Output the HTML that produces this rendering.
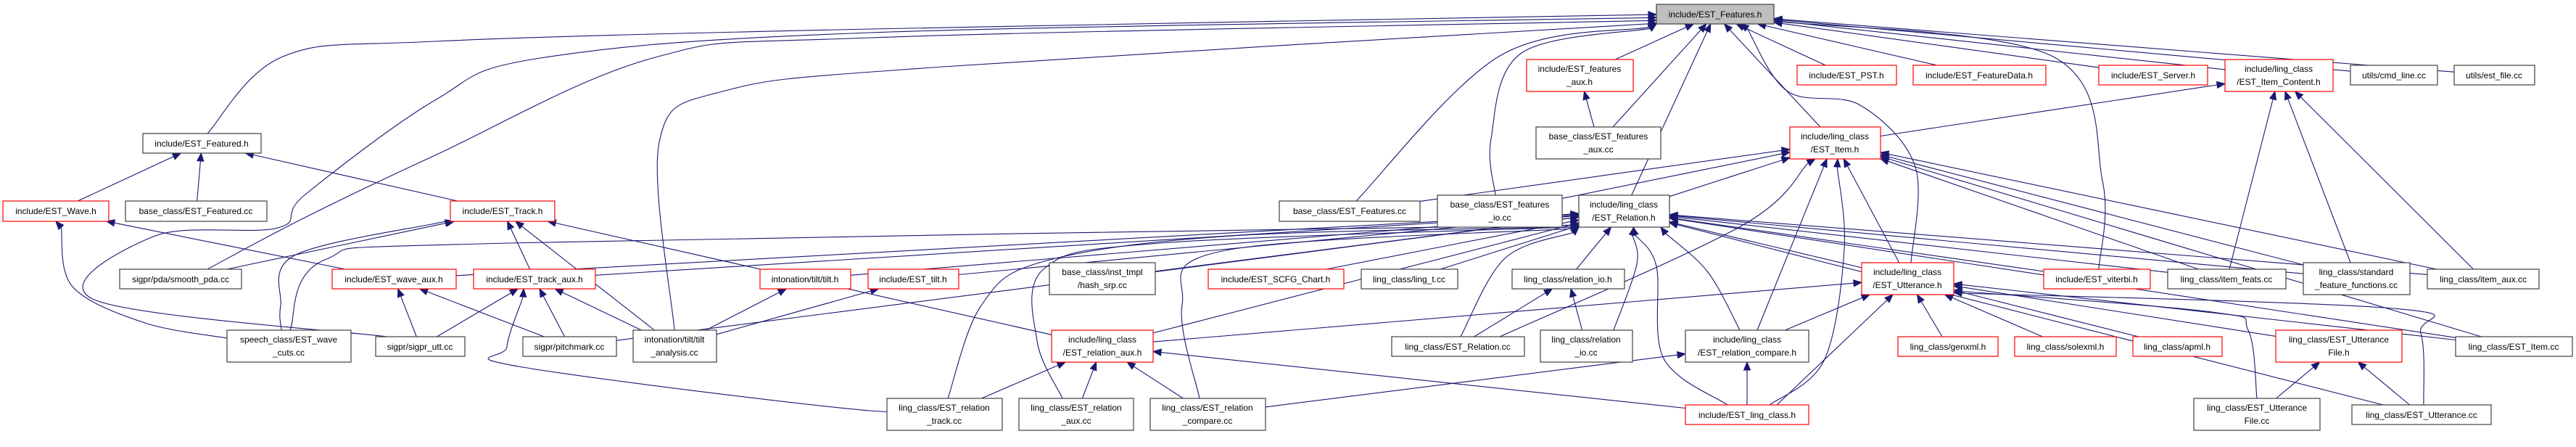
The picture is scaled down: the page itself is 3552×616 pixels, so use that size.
<!DOCTYPE html>
<html><head><meta charset="utf-8">
<style>
html,body{margin:0;padding:0;background:#fff;}
svg{display:block;}
text{font-family:"Liberation Sans",sans-serif;font-size:12px;fill:#000;}
</style></head>
<body>
<svg id="s" width="3552" height="616" viewBox="0 0 3552 616" xmlns="http://www.w3.org/2000/svg">
<rect width="3552" height="616" fill="#fff"/>
<g id="edges" fill="none" stroke="#191970" stroke-width="1.1"></g>
<g id="arrows" fill="#191970" stroke="#191970" stroke-width="1"></g>
<g id="nodes" stroke-width="1.2">
<rect x="2284" y="6" width="162" height="27" fill="#bfbfbf" stroke="#404040"/><text x="2365" y="24" text-anchor="middle">include/EST_Features.h</text>
<rect x="197" y="184" width="163" height="27" fill="#fff" stroke="#404040"/><text x="278" y="202" text-anchor="middle">include/EST_Featured.h</text>
<rect x="4" y="277" width="146" height="28" fill="#fff" stroke="#ff0000"/><text x="77" y="295" text-anchor="middle">include/EST_Wave.h</text>
<rect x="173" y="277" width="195" height="28" fill="#fff" stroke="#404040"/><text x="270" y="295" text-anchor="middle">base_class/EST_Featured.cc</text>
<rect x="165" y="371" width="168" height="27" fill="#fff" stroke="#404040"/><text x="249" y="389" text-anchor="middle">sigpr/pda/smooth_pda.cc</text>
<rect x="458" y="371" width="171" height="27" fill="#fff" stroke="#ff0000"/><text x="543" y="389" text-anchor="middle">include/EST_wave_aux.h</text>
<rect x="313" y="455" width="171" height="44" fill="#fff" stroke="#404040"/><text x="398" y="472" text-anchor="middle">speech_class/EST_wave</text><text x="398" y="490" text-anchor="middle">_cuts.cc</text>
<rect x="518" y="464" width="123" height="27" fill="#fff" stroke="#404040"/><text x="579" y="482" text-anchor="middle">sigpr/sigpr_utt.cc</text>
<rect x="621" y="277" width="144" height="28" fill="#fff" stroke="#ff0000"/><text x="693" y="295" text-anchor="middle">include/EST_Track.h</text>
<rect x="653" y="371" width="168" height="27" fill="#fff" stroke="#ff0000"/><text x="737" y="389" text-anchor="middle">include/EST_track_aux.h</text>
<rect x="721" y="464" width="129" height="27" fill="#fff" stroke="#404040"/><text x="785" y="482" text-anchor="middle">sigpr/pitchmark.cc</text>
<rect x="873" y="455" width="115" height="44" fill="#fff" stroke="#404040"/><text x="930" y="472" text-anchor="middle">intonation/tilt/tilt</text><text x="930" y="490" text-anchor="middle">_analysis.cc</text>
<rect x="1048" y="371" width="125" height="27" fill="#fff" stroke="#ff0000"/><text x="1110" y="389" text-anchor="middle">intonation/tilt/tilt.h</text>
<rect x="1197" y="371" width="125" height="27" fill="#fff" stroke="#ff0000"/><text x="1259" y="389" text-anchor="middle">include/EST_tilt.h</text>
<rect x="1447" y="362" width="146" height="44" fill="#fff" stroke="#404040"/><text x="1520" y="379" text-anchor="middle">base_class/inst_tmpl</text><text x="1520" y="397" text-anchor="middle">/hash_srp.cc</text>
<rect x="1666" y="371" width="187" height="27" fill="#fff" stroke="#ff0000"/><text x="1759" y="389" text-anchor="middle">include/EST_SCFG_Chart.h</text>
<rect x="1450" y="455" width="140" height="44" fill="#fff" stroke="#ff0000"/><text x="1520" y="472" text-anchor="middle">include/ling_class</text><text x="1520" y="490" text-anchor="middle">/EST_relation_aux.h</text>
<rect x="1223" y="549" width="159" height="44" fill="#fff" stroke="#404040"/><text x="1302" y="566" text-anchor="middle">ling_class/EST_relation</text><text x="1302" y="584" text-anchor="middle">_track.cc</text>
<rect x="1405" y="549" width="158" height="44" fill="#fff" stroke="#404040"/><text x="1484" y="566" text-anchor="middle">ling_class/EST_relation</text><text x="1484" y="584" text-anchor="middle">_aux.cc</text>
<rect x="1586" y="549" width="159" height="44" fill="#fff" stroke="#404040"/><text x="1665" y="566" text-anchor="middle">ling_class/EST_relation</text><text x="1665" y="584" text-anchor="middle">_compare.cc</text>
<rect x="1764" y="277" width="194" height="28" fill="#fff" stroke="#404040"/><text x="1861" y="295" text-anchor="middle">base_class/EST_Features.cc</text>
<rect x="2105" y="82" width="147" height="44" fill="#fff" stroke="#ff0000"/><text x="2178" y="99" text-anchor="middle">include/EST_features</text><text x="2178" y="117" text-anchor="middle">_aux.h</text>
<rect x="2118" y="175" width="172" height="44" fill="#fff" stroke="#404040"/><text x="2204" y="192" text-anchor="middle">base_class/EST_features</text><text x="2204" y="210" text-anchor="middle">_aux.cc</text>
<rect x="1982" y="269" width="172" height="44" fill="#fff" stroke="#404040"/><text x="2068" y="286" text-anchor="middle">base_class/EST_features</text><text x="2068" y="304" text-anchor="middle">_io.cc</text>
<rect x="2177" y="269" width="125" height="44" fill="#fff" stroke="#404040"/><text x="2239" y="286" text-anchor="middle">include/ling_class</text><text x="2239" y="304" text-anchor="middle">/EST_Relation.h</text>
<rect x="1877" y="371" width="133" height="27" fill="#fff" stroke="#404040"/><text x="1943" y="389" text-anchor="middle">ling_class/ling_t.cc</text>
<rect x="2085" y="371" width="155" height="27" fill="#fff" stroke="#404040"/><text x="2162" y="389" text-anchor="middle">ling_class/relation_io.h</text>
<rect x="1919" y="464" width="183" height="27" fill="#fff" stroke="#404040"/><text x="2010" y="482" text-anchor="middle">ling_class/EST_Relation.cc</text>
<rect x="2124" y="455" width="127" height="44" fill="#fff" stroke="#404040"/><text x="2187" y="472" text-anchor="middle">ling_class/relation</text><text x="2187" y="490" text-anchor="middle">_io.cc</text>
<rect x="2324" y="455" width="170" height="44" fill="#fff" stroke="#404040"/><text x="2409" y="472" text-anchor="middle">include/ling_class</text><text x="2409" y="490" text-anchor="middle">/EST_relation_compare.h</text>
<rect x="2324" y="558" width="170" height="27" fill="#fff" stroke="#ff0000"/><text x="2409" y="576" text-anchor="middle">include/EST_ling_class.h</text>
<rect x="2478" y="90" width="137" height="27" fill="#fff" stroke="#ff0000"/><text x="2546" y="108" text-anchor="middle">include/EST_PST.h</text>
<rect x="2638" y="90" width="183" height="27" fill="#fff" stroke="#ff0000"/><text x="2729" y="108" text-anchor="middle">include/EST_FeatureData.h</text>
<rect x="2894" y="90" width="150" height="27" fill="#fff" stroke="#ff0000"/><text x="2969" y="108" text-anchor="middle">include/EST_Server.h</text>
<rect x="2468" y="175" width="125" height="44" fill="#fff" stroke="#ff0000"/><text x="2530" y="192" text-anchor="middle">include/ling_class</text><text x="2530" y="210" text-anchor="middle">/EST_Item.h</text>
<rect x="2567" y="362" width="127" height="44" fill="#fff" stroke="#ff0000"/><text x="2630" y="379" text-anchor="middle">include/ling_class</text><text x="2630" y="397" text-anchor="middle">/EST_Utterance.h</text>
<rect x="2818" y="371" width="147" height="27" fill="#fff" stroke="#ff0000"/><text x="2891" y="389" text-anchor="middle">include/EST_viterbi.h</text>
<rect x="2617" y="464" width="138" height="27" fill="#fff" stroke="#ff0000"/><text x="2686" y="482" text-anchor="middle">ling_class/genxml.h</text>
<rect x="2778" y="464" width="140" height="27" fill="#fff" stroke="#ff0000"/><text x="2848" y="482" text-anchor="middle">ling_class/solexml.h</text>
<rect x="2941" y="464" width="123" height="27" fill="#fff" stroke="#ff0000"/><text x="3002" y="482" text-anchor="middle">ling_class/apml.h</text>
<rect x="3068" y="82" width="149" height="44" fill="#fff" stroke="#ff0000"/><text x="3142" y="99" text-anchor="middle">include/ling_class</text><text x="3142" y="117" text-anchor="middle">/EST_Item_Content.h</text>
<rect x="3241" y="90" width="120" height="27" fill="#fff" stroke="#404040"/><text x="3301" y="108" text-anchor="middle">utils/cmd_line.cc</text>
<rect x="3384" y="90" width="111" height="27" fill="#fff" stroke="#404040"/><text x="3439" y="108" text-anchor="middle">utils/est_file.cc</text>
<rect x="2989" y="371" width="163" height="27" fill="#fff" stroke="#404040"/><text x="3070" y="389" text-anchor="middle">ling_class/item_feats.cc</text>
<rect x="3176" y="362" width="147" height="44" fill="#fff" stroke="#404040"/><text x="3249" y="379" text-anchor="middle">ling_class/standard</text><text x="3249" y="397" text-anchor="middle">_feature_functions.cc</text>
<rect x="3347" y="371" width="154" height="27" fill="#fff" stroke="#404040"/><text x="3424" y="389" text-anchor="middle">ling_class/item_aux.cc</text>
<rect x="3138" y="455" width="174" height="44" fill="#fff" stroke="#ff0000"/><text x="3225" y="472" text-anchor="middle">ling_class/EST_Utterance</text><text x="3225" y="490" text-anchor="middle">File.h</text>
<rect x="3386" y="464" width="161" height="27" fill="#fff" stroke="#404040"/><text x="3466" y="482" text-anchor="middle">ling_class/EST_Item.cc</text>
<rect x="3025" y="549" width="174" height="44" fill="#fff" stroke="#404040"/><text x="3112" y="566" text-anchor="middle">ling_class/EST_Utterance</text><text x="3112" y="584" text-anchor="middle">File.cc</text>
<rect x="3243" y="558" width="192" height="27" fill="#fff" stroke="#404040"/><text x="3339" y="576" text-anchor="middle">ling_class/EST_Utterance.cc</text>
</g>
</svg>
<script>
var N={F:[2284,6,2446,33],Fd:[197,184,360,211],Wave:[4,277,150,305],FdCC:[173,277,368,305],pda:[165,371,333,398],waux:[458,371,629,398],cuts:[313,455,484,499],sutt:[518,464,641,491],Track:[621,277,765,305],taux:[653,371,821,398],pm:[721,464,850,491],tan:[873,455,988,499],tilth:[1048,371,1173,398],esttilt:[1197,371,1322,398],hash:[1447,362,1593,406],scfg:[1666,371,1853,398],raux:[1450,455,1590,499],rtrack:[1223,549,1382,593],rauxcc:[1405,549,1563,593],rcmpcc:[1586,549,1745,593],fcc:[1764,277,1958,305],faux:[2105,82,2252,126],fauxcc:[2118,175,2290,219],fio:[1982,269,2154,313],rel:[2177,269,2302,313],lingt:[1877,371,2010,398],rioh:[2085,371,2240,398],relcc:[1919,464,2102,491],riocc:[2124,455,2251,499],rcmph:[2324,455,2494,499],lingcls:[2324,558,2494,585],pst:[2478,90,2615,117],fdata:[2638,90,2821,117],server:[2894,90,3044,117],item:[2468,175,2593,219],utt:[2567,362,2694,406],vit:[2818,371,2965,398],gen:[2617,464,2755,491],sol:[2778,464,2918,491],apml:[2941,464,3064,491],ic:[3068,82,3217,126],cmd:[3241,90,3361,117],estfile:[3384,90,3495,117],ifeats:[2989,371,3152,398],sff:[3176,362,3323,406],iaux:[3347,371,3501,398],uth:[3138,455,3312,499],itemcc:[3386,464,3547,491],utfcc:[3025,549,3199,593],uttcc:[3243,558,3435,585]};
function ctr(b){return [(b[0]+b[2])/2,(b[1]+b[3])/2];}
function exitPt(b,t){var c=ctr(b),dx=t[0]-c[0],dy=t[1]-c[1],hw=(b[2]-b[0])/2,hh=(b[3]-b[1])/2;var s=Infinity;if(dx!==0)s=Math.min(s,hw/Math.abs(dx));if(dy!==0)s=Math.min(s,hh/Math.abs(dy));return [c[0]+dx*s,c[1]+dy*s];}
var simple=[
['F',['faux','fauxcc','rel','item','pst','fdata','server','ic','cmd','estfile']],
['Fd',['Wave','FdCC','Track']],
['Wave',['waux']],
['Track',['pda','taux','tan','raux']],
['waux',['pm','sutt']],
['taux',['sutt','pm','tan']],
['tilth',['tan']],['esttilt',['tan']],['faux',['fauxcc']],
['rel',['waux','taux','tilth','esttilt','pm','hash','scfg','lingt','rioh','utt','vit','ifeats','sff','iaux','itemcc','uttcc','raux']],
['item',['fcc','fio','rel','utt','ifeats','sff','iaux','itemcc']],
['ic',['item','ifeats','sff','iaux']],
['utt',['raux','rcmph','gen','sol','apml','uth','itemcc']],
['raux',['rtrack','rauxcc','rcmpcc','lingcls']],
['rcmph',['lingcls','rcmpcc']],
['rioh',['relcc','riocc']],
['uth',['utfcc','uttcc']]];
var paths=[
[[286,184],[390,78],[600,57],[1200,40],[2284,20]],
[[534,464],[130,413],[214,325],[383,314],[421,268],[600,138],[745,80],[1200,45],[2284,24]],
[[286,371],[420,300],[600,214],[900,80],[1200,52],[2284,28]],
[[930,455],[909,196],[1000,125],[1300,92],[2284,32]],
[[1870,277],[2068,77],[2284,32]],
[[2062,269],[2056,191],[2098,73],[2284,33]],
[[2635,362],[2641,230],[2565,145],[2465,126],[2400,33]],
[[2894,371],[2899,249],[2829,77],[2446,25]],
[[313,466],[200,445],[100,395],[77,305]],
[[388,455],[387,421],[406,352],[600,308],[625,305]],
[[400,455],[448,358],[700,335],[2178,310]],
[[1240,549],[1200,566],[715,505],[699,478],[722,398]],
[[1307,549],[1353,421],[1440,360],[1700,325],[2178,312]],
[[1465,549],[1430,470],[1440,370],[1600,335],[2178,312]],
[[1654,549],[1630,420],[1690,345],[2178,313]],
[[2382,558],[2294,494],[2284,367],[2252,313]],
[[2225,455],[2257,364],[2253,313]],
[[2014,464],[2075,356],[2177,313]],
[[2399,455],[2355,375],[2290,313]],
[[2440,558],[2515,497],[2543,344],[2534,219]],
[[2423,455],[2519,219]],
[[2450,558],[2610,406]],
[[2068,464],[2400,312],[2503,219]],
[[3342,558],[3338,459],[3300,425],[2694,403]],
[[3112,549],[3100,455],[3050,430],[2694,400]]
];
simple.forEach(function(e){var p=N[e[0]];e[1].forEach(function(cid){var c=N[cid];var S=exitPt(c,ctr(p)),E=exitPt(p,ctr(c));paths.push([S,E]);});});
var NS="http://www.w3.org/2000/svg",eg=document.getElementById('edges'),ag=document.getElementById('arrows');
function f(n){return n.toFixed(1);}
paths.forEach(function(P){
 var n=P.length,E=P[n-1],prev=P[n-2];
 var pm1=n>2?P[n-3]:prev;var c2=[prev[0]+0,prev[1]];
 if(n>2){c2=[E[0]-(E[0]-pm1[0])/6,E[1]-(E[1]-pm1[1])/6];}
 var dx=E[0]-c2[0],dy=E[1]-c2[1],L=Math.sqrt(dx*dx+dy*dy)||1;dx/=L;dy/=L;
 var AL=11,AW=4.5;var B=[E[0]-dx*AL,E[1]-dy*AL];
 var Q=P.slice();Q[n-1]=B;
 var d='M'+f(Q[0][0])+','+f(Q[0][1]);
 for(var i=0;i<n-1;i++){var p0=Q[i-1]||Q[i],p1=Q[i],p2=Q[i+1],p3=Q[i+2]||Q[i+1];
  var a=[p1[0]+(p2[0]-p0[0])/6,p1[1]+(p2[1]-p0[1])/6],b=[p2[0]-(p3[0]-p1[0])/6,p2[1]-(p3[1]-p1[1])/6];
  d+=' C'+f(a[0])+','+f(a[1])+' '+f(b[0])+','+f(b[1])+' '+f(p2[0])+','+f(p2[1]);}
 var pe=document.createElementNS(NS,'path');pe.setAttribute('d',d);eg.appendChild(pe);
 var tri=document.createElementNS(NS,'polygon');
 tri.setAttribute('points',f(E[0])+','+f(E[1])+' '+f(B[0]-dy*AW)+','+f(B[1]+dx*AW)+' '+f(B[0]+dy*AW)+','+f(B[1]-dx*AW));
 ag.appendChild(tri);
});
</script>
</body></html>
